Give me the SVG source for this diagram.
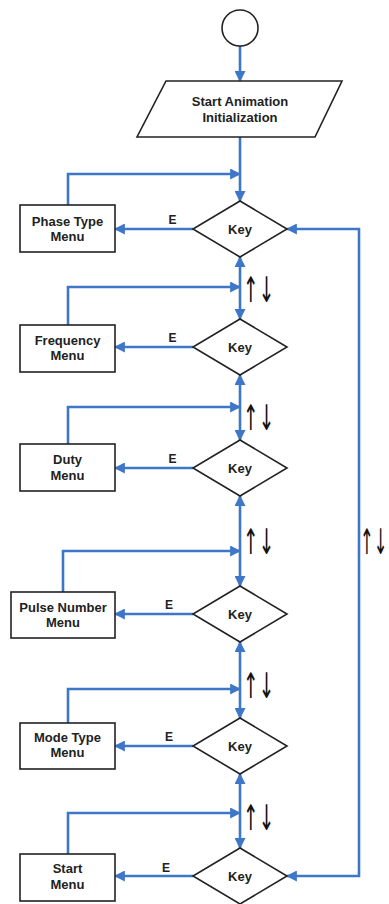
<svg xmlns="http://www.w3.org/2000/svg" width="389" height="904" viewBox="0 0 389 904">
<style>
.sh{fill:#fff;stroke:#222;stroke-width:1.6}
.t{font-family:"Liberation Sans",Arial,sans-serif;font-weight:bold;font-size:13px;fill:#222;text-anchor:middle}
.e{font-family:"Liberation Sans",Arial,sans-serif;font-weight:bold;font-size:12px;fill:#222;text-anchor:middle}
.ar{font-family:"DejaVu Sans",sans-serif;font-size:22px;fill:#111}
.c{fill:none;stroke:#3f77c8;stroke-width:2.6}
</style>
<defs>
<marker id="ah" viewBox="0 0 10 10" refX="9" refY="5" markerWidth="11" markerHeight="11" markerUnits="userSpaceOnUse" orient="auto-start-reverse">
<path d="M0,0 L10,5 L0,10 z" fill="#3f77c8"/>
</marker>
</defs>
<g id="connectors">
<path class="c" d="M240,46 V81" marker-end="url(#ah)"/>
<path class="c" d="M240,137 V201" marker-end="url(#ah)"/>
<path class="c" d="M68,205 V174 H240" marker-end="url(#ah)"/>
<path class="c" d="M193,229 H115" marker-end="url(#ah)"/>
<path class="c" d="M240,257 V319" marker-start="url(#ah)" marker-end="url(#ah)"/>
<path class="c" d="M68,325 V287 H240" marker-end="url(#ah)"/>
<path class="c" d="M193,347 H115" marker-end="url(#ah)"/>
<path class="c" d="M240,375 V440" marker-start="url(#ah)" marker-end="url(#ah)"/>
<path class="c" d="M68,444 V407 H240" marker-end="url(#ah)"/>
<path class="c" d="M193,468 H115" marker-end="url(#ah)"/>
<path class="c" d="M240,496 V586" marker-start="url(#ah)" marker-end="url(#ah)"/>
<path class="c" d="M63,592 V551 H240" marker-end="url(#ah)"/>
<path class="c" d="M193,614 H115" marker-end="url(#ah)"/>
<path class="c" d="M240,642 V718" marker-start="url(#ah)" marker-end="url(#ah)"/>
<path class="c" d="M68,723 V689 H240" marker-end="url(#ah)"/>
<path class="c" d="M193,746 H115" marker-end="url(#ah)"/>
<path class="c" d="M240,774 V848" marker-start="url(#ah)" marker-end="url(#ah)"/>
<path class="c" d="M68,854 V813 H240" marker-end="url(#ah)"/>
<path class="c" d="M193,876 H115" marker-end="url(#ah)"/>
<path class="c" d="M287,229 H359 V876 H287" marker-start="url(#ah)" marker-end="url(#ah)"/>
<text class="e" x="172.5" y="224">E</text>
<text class="e" x="172.5" y="342">E</text>
<text class="e" x="172.5" y="463">E</text>
<text class="e" x="169" y="609">E</text>
<text class="e" x="169" y="741">E</text>
<text class="e" x="166" y="872">E</text>
<text class="ar" transform="translate(243,302) scale(0.85,1.6)">↑↓</text>
<text class="ar" transform="translate(243,430) scale(0.85,1.6)">↑↓</text>
<text class="ar" transform="translate(243,554) scale(0.85,1.6)">↑↓</text>
<text class="ar" transform="translate(243,698) scale(0.85,1.6)">↑↓</text>
<text class="ar" transform="translate(243,830) scale(0.85,1.6)">↑↓</text>
<text class="ar" transform="translate(360,554) scale(0.75,1.6)">↑↓</text>
</g>
<g id="start"><circle class="sh" cx="240" cy="28" r="18"/></g>
<g id="init">
<polygon class="sh" points="166,81 342,81 315,137 137,137"/>
<text class="t" x="240" y="105.5">Start Animation</text>
<text class="t" x="240" y="121.5">Initialization</text>
</g>
<g id="key1"><polygon class="sh" points="240,201 287,229 240,257 193,229"/><text class="t" x="240" y="233.5">Key</text></g>
<g id="key2"><polygon class="sh" points="240,319 287,347 240,375 193,347"/><text class="t" x="240" y="351.5">Key</text></g>
<g id="key3"><polygon class="sh" points="240,440 287,468 240,496 193,468"/><text class="t" x="240" y="472.5">Key</text></g>
<g id="key4"><polygon class="sh" points="240,586 287,614 240,642 193,614"/><text class="t" x="240" y="618.5">Key</text></g>
<g id="key5"><polygon class="sh" points="240,718 287,746 240,774 193,746"/><text class="t" x="240" y="750.5">Key</text></g>
<g id="key6"><polygon class="sh" points="240,848 287,876 240,904 193,876"/><text class="t" x="240" y="880.5">Key</text></g>
<g id="phase"><rect class="sh" x="20" y="205" width="95" height="47"/><text class="t" x="67.5" y="225.5">Phase Type</text><text class="t" x="67.5" y="240.5">Menu</text></g>
<g id="freq"><rect class="sh" x="20" y="325" width="95" height="47"/><text class="t" x="67.5" y="344.5">Frequency</text><text class="t" x="67.5" y="359.5">Menu</text></g>
<g id="duty"><rect class="sh" x="20" y="444" width="95" height="47"/><text class="t" x="67.5" y="463.5">Duty</text><text class="t" x="67.5" y="479.5">Menu</text></g>
<g id="pulse"><rect class="sh" x="11" y="592" width="104" height="46"/><text class="t" x="63" y="611.5">Pulse Number</text><text class="t" x="63" y="626.5">Menu</text></g>
<g id="mode"><rect class="sh" x="20" y="723" width="95" height="46"/><text class="t" x="67.5" y="741.5">Mode Type</text><text class="t" x="67.5" y="756.5">Menu</text></g>
<g id="startmenu"><rect class="sh" x="20" y="854" width="95" height="47"/><text class="t" x="67.5" y="872.5">Start</text><text class="t" x="67.5" y="888.5">Menu</text></g>
</svg>
